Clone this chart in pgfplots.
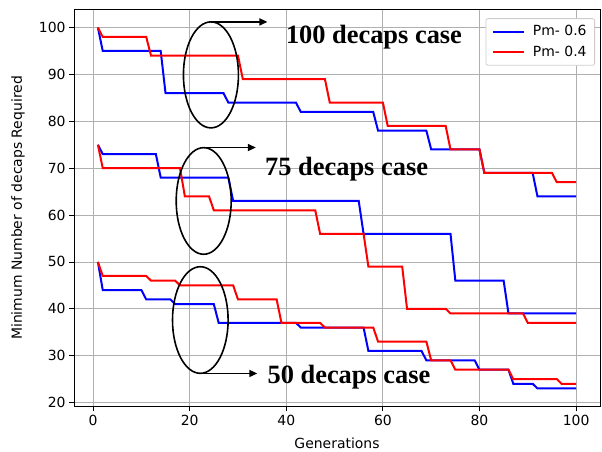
\documentclass[border=0pt]{standalone}
\usepackage{fontspec}
\setmainfont{DejaVu Sans}
\setsansfont{DejaVu Sans}
\newfontfamily\annfont{Liberation Serif}
\usepackage{pgfplots}
\pgfplotsset{compat=1.18}
\usetikzlibrary{arrows.meta,calc}
\definecolor{gridc}{RGB}{176,176,176}
\definecolor{legframe}{RGB}{204,204,204}
\begin{document}
\begin{tikzpicture}
\begin{axis}[
  scale only axis, width=526bp, height=397bp,
  xmin=-3.95, xmax=104.95, ymin=19.15, ymax=103.85,
  xtick={0,20,40,60,80,100}, ytick={20,30,...,100},
  grid=major, grid style={gridc, line width=0.8bp},
  axis line style={black, line width=0.8bp},
  tick align=outside, major tick length=4.9bp, tick style={black, line width=0.8bp},
  tick pos=left,
  /pgf/number format/assume math mode=true,
  ticklabel style={font=\fontsize{14}{16}\selectfont},
  xlabel={Generations}, ylabel={Minimum Number of decaps Required},
  label style={font=\fontsize{14}{16}\selectfont},
  xlabel style={at={(axis description cs:0.5,-0.092)}, anchor=center},
  ylabel style={at={(axis description cs:-0.1065,0.5)}, anchor=center},
  legend style={at={(axis description cs:0.9905,0.978)}, anchor=north east,
    draw=legframe, rounded corners=2bp, line width=0.8bp, fill=white,
    font=\fontsize{14}{16}\selectfont, inner xsep=6bp, inner ysep=5bp, row sep=5bp,
    /tikz/every odd column/.append style={column sep=6bp}},
  legend cell align=left,
  legend image code/.code={\draw[#1] (0bp,0bp) -- (31bp,0bp);},
]
% 100 decaps case
\addplot[blue, line width=2bp] coordinates {(1,100)(2,95)(14,95)(15,86)(27,86)(28,84)(42,84)(43,82)(58,82)(59,78)(69,78)(70,74)(80,74)(81,69)(91,69)(92,64)(100,64)};
\addlegendentry{Pm- 0.6}
\addplot[red, line width=2bp] coordinates {(1,100)(2,98)(11,98)(12,94)(30,94)(31,89)(48,89)(49,84)(60,84)(61,79)(73,79)(74,74)(80,74)(81,69)(95,69)(96,67)(100,67)};
\addlegendentry{Pm- 0.4}
% 75 decaps case
\addplot[blue, line width=2bp, forget plot] coordinates {(1,75)(2,73)(13,73)(14,68)(28,68)(29,63)(55,63)(56,56)(74,56)(75,46)(85,46)(86,39)(100,39)};
\addplot[red, line width=2bp, forget plot] coordinates {(1,75)(2,70)(18,70)(19,64)(24,64)(25,61)(46,61)(47,56)(56,56)(57,49)(64,49)(65,40)(73,40)(74,39)(89,39)(90,37)(100,37)};
% 50 decaps case
\addplot[blue, line width=2bp, forget plot] coordinates {(1,50)(2,44)(10,44)(11,42)(16,42)(17,41)(25,41)(26,37)(42,37)(43,36)(56,36)(57,31)(68,31)(69,29)(79,29)(80,27)(86,27)(87,24)(91,24)(92,23)(100,23)};
\addplot[red, line width=2bp, forget plot] coordinates {(1,50)(2,47)(11,47)(12,46)(17,46)(18,45)(29,45)(30,42)(38,42)(39,37)(47,37)(48,36)(58,36)(59,33)(69,33)(70,29)(74,29)(75,27)(86,27)(87,25)(96,25)(97,24)(100,24)};
% annotations
\draw[black, line width=1.6bp] (axis cs:24.4,89.9) ellipse [x radius=27.5bp, y radius=53bp];
\draw[black, line width=1.6bp, -{Triangle[length=8bp,width=7bp]}] (axis cs:24.4,101.2) -- (axis cs:36.1,101.2);
\draw[black, line width=1.6bp] (axis cs:22.9,63.0) ellipse [x radius=27.5bp, y radius=53.3bp];
\draw[black, line width=1.6bp, -{Triangle[length=8bp,width=7bp]}] (axis cs:22.9,74.4) -- (axis cs:33.7,74.4);
\draw[black, line width=1.6bp] (axis cs:22.2,37.6) ellipse [x radius=27.8bp, y radius=53.3bp];
\draw[black, line width=1.6bp, -{Triangle[length=8bp,width=7bp]}] (axis cs:22.2,26.2) -- (axis cs:34.0,26.2);
\node[anchor=base west, inner sep=0pt, font=\annfont\bfseries\fontsize{26.5}{30}\selectfont] at (axis cs:39.9,96.6) {100 decaps case};
\node[anchor=base west, inner sep=0pt, font=\annfont\bfseries\fontsize{26.5}{30}\selectfont] at (axis cs:35.6,68.5) {75 decaps case};
\node[anchor=base west, inner sep=0pt, font=\annfont\bfseries\fontsize{26.5}{30}\selectfont] at (axis cs:36.1,24.1) {50 decaps case};
\end{axis}
\pgfresetboundingbox
\path[use as bounding box] ($(current axis.south west)+(-74bp,-45.5bp)$) rectangle ($(current axis.north east)+(2bp,9.5bp)$);
\end{tikzpicture}
\end{document}
